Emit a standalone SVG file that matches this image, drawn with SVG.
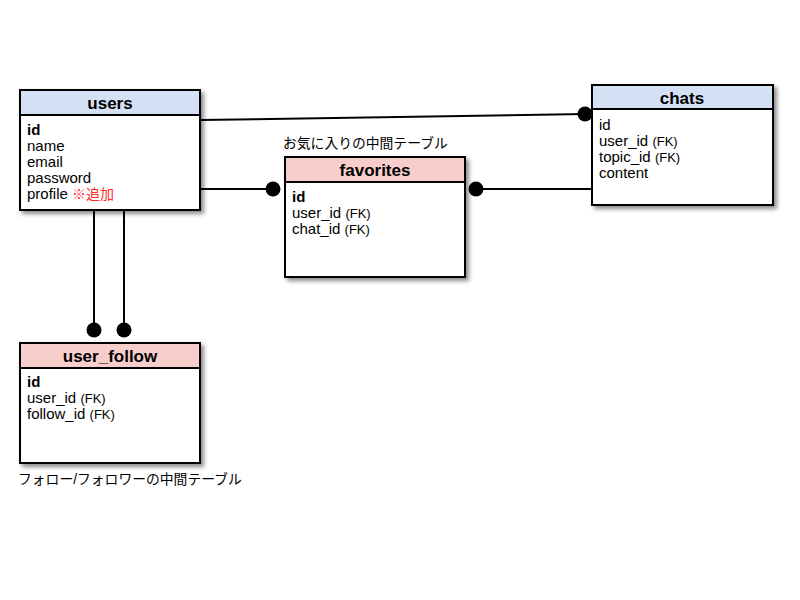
<svg xmlns="http://www.w3.org/2000/svg" width="800" height="600" viewBox="0 0 800 600">
<style>
.box{fill:#fff;stroke:#000;stroke-width:2}
.hb{stroke:#000;stroke-width:2}
.blue{fill:#d4e1f5}
.pink{fill:#f8cecc}
.title{font-family:"Liberation Sans",Arial,sans-serif;font-size:17px;font-weight:bold;text-anchor:middle;fill:#000}
.t{font-family:"Liberation Sans",Arial,sans-serif;font-size:15px;fill:#000}
.fk{font-size:13px}
.b{font-weight:bold}
.red{fill:#ff2a2a;font-family:"Liberation Sans","Noto Sans CJK JP",sans-serif;font-size:14px}
.note{font-family:"Liberation Sans","Noto Sans CJK JP",sans-serif;font-size:13.8px;fill:#000}
.ln{stroke:#000;stroke-width:2;fill:none}
.dot{fill:#000}
</style>
<defs>
<filter id="sh" x="-10%" y="-10%" width="130%" height="130%">
<feDropShadow dx="3" dy="3" stdDeviation="2" flood-color="#000" flood-opacity="0.45"/>
</filter>
</defs>
<rect width="800" height="600" fill="#fff"/>
<g id="connectors">
<line class="ln" x1="200" y1="120" x2="585" y2="114"/>
<circle class="dot" cx="585" cy="114" r="7.5"/>
<line class="ln" x1="200" y1="189" x2="273" y2="189"/>
<circle class="dot" cx="273" cy="189" r="7.5"/>
<line class="ln" x1="476" y1="189" x2="592" y2="189"/>
<circle class="dot" cx="476" cy="189" r="7.5"/>
<line class="ln" x1="94" y1="210" x2="94" y2="330"/>
<circle class="dot" cx="94" cy="330" r="7.5"/>
<line class="ln" x1="124" y1="210" x2="124" y2="330"/>
<circle class="dot" cx="124" cy="330" r="7.5"/>
</g>
<g id="users">
<rect class="box" x="20" y="90" width="180" height="120" filter="url(#sh)"/>
<rect class="blue hb" x="20" y="90" width="180" height="25"/>
<text class="title" x="110" y="109">users</text>
<text class="t b" x="27" y="135">id</text>
<text class="t" x="27" y="151">name</text>
<text class="t" x="27" y="167">email</text>
<text class="t" x="27" y="183">password</text>
<text class="t" x="27" y="199">profile <tspan class="red">※追加</tspan></text>
</g>
<g id="chats">
<rect class="box" x="592" y="85" width="181" height="120" filter="url(#sh)"/>
<rect class="blue hb" x="592" y="85" width="181" height="24"/>
<text class="title" x="682" y="104">chats</text>
<text class="t" x="599" y="130">id</text>
<text class="t" x="599" y="146">user_id <tspan class="fk">(FK)</tspan></text>
<text class="t" x="599" y="162">topic_id <tspan class="fk">(FK)</tspan></text>
<text class="t" x="599" y="178">content</text>
</g>
<g id="favorites">
<text class="note" x="283" y="148">お気に入りの中間テーブル</text>
<rect class="box" x="285" y="157" width="180" height="120" filter="url(#sh)"/>
<rect class="pink hb" x="285" y="157" width="180" height="25"/>
<text class="title" x="375" y="176">favorites</text>
<text class="t b" x="292" y="202">id</text>
<text class="t" x="292" y="218">user_id <tspan class="fk">(FK)</tspan></text>
<text class="t" x="292" y="234">chat_id <tspan class="fk">(FK)</tspan></text>
</g>
<g id="user_follow">
<rect class="box" x="20" y="343" width="180" height="120" filter="url(#sh)"/>
<rect class="pink hb" x="20" y="343" width="180" height="25"/>
<text class="title" x="110" y="362">user_follow</text>
<text class="t b" x="27" y="387">id</text>
<text class="t" x="27" y="403">user_id <tspan class="fk">(FK)</tspan></text>
<text class="t" x="27" y="419">follow_id <tspan class="fk">(FK)</tspan></text>
<text class="note" x="18" y="484">フォロー/フォロワーの中間テーブル</text>
</g>
</svg>
